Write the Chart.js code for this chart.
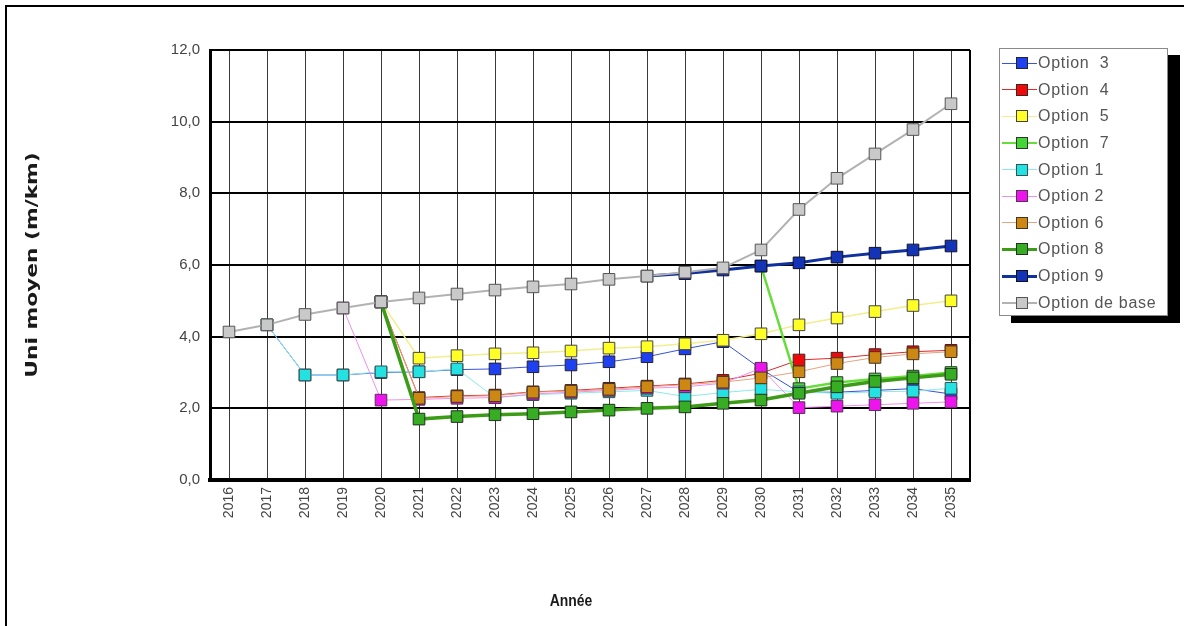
<!DOCTYPE html>
<html>
<head>
<meta charset="utf-8">
<script src="https://cdn.jsdelivr.net/npm/chart.js@4"></script>
<style>
  body { margin: 0; background: #fff; }
  #wrap { position: relative; width: 1184px; height: 626px; overflow: hidden; }
  #myChart { position: absolute; left: 0; top: 0; }
  #frame { position: absolute; left: 5px; top: 5px; right: -10px; bottom: -10px;
           border-top: 2px solid #000; border-left: 2px solid #000; }
  #legend { position: absolute; left: 999px; top: 48px; width: 169px; height: 268px;
            padding-top: 1px; box-sizing: border-box; background: #fff;
            border: 1px solid #8a8a8a; box-shadow: 12px 7px 0 #000; }
  #legend .item { position: relative; height: 26.6px; }
  #legend .seg { position: absolute; left: 2px; width: 35px; top: 50%; }
  #legend .box { position: absolute; left: 16px; top: 50%; width: 10px; height: 10px;
                 margin-top: -6px; border: 1px solid #333; }
  #legend .txt { position: absolute; left: 38px; top: 50%; transform: translateY(-50%);
                 font: 16px "Liberation Sans", Arial, sans-serif; letter-spacing: 0.7px;
                 white-space: pre; color: #555; }
</style>
</head>
<body>
<div id="wrap">
  <canvas id="myChart" width="1184" height="626"></canvas>
  <div id="frame"></div>
  <div id="legend"></div>
</div>
<script>
// years on the x axis
const years = ["2016", "2017", "2018", "2019", "2020", "2021", "2022", "2023", "2024", "2025",
               "2026", "2027", "2028", "2029", "2030", "2031", "2032", "2033", "2034", "2035"];

// roughness per option (m/km), null before the option branches off
const option3 = [null, 4.33, 2.93, 2.93, 3.00, 3.02, 3.08, 3.10, 3.16, 3.21, 3.30, 3.44, 3.66, 3.86, 3.10, 2.45, 2.45, 2.50, 2.55, 2.40];
const option4 = [null, null, null, null, 4.97, 2.30, 2.35, 2.37, 2.46, 2.50, 2.56, 2.62, 2.68, 2.78, 2.98, 3.35, 3.40, 3.50, 3.58, 3.62];
const option5 = [null, null, null, null, 4.97, 3.40, 3.47, 3.52, 3.55, 3.60, 3.68, 3.72, 3.80, 3.90, 4.08, 4.33, 4.52, 4.70, 4.87, 5.00];
const option7 = [null, null, null, null, null, null, null, null, null, null, null, null, null, null, 5.97, 2.55, 2.72, 2.82, 2.90, 3.00];
const option1 = [null, 4.33, 2.93, 2.93, 3.02, 3.02, 3.10, 2.30, 2.38, 2.42, 2.46, 2.50, 2.33, 2.44, 2.53, 2.46, 2.42, 2.46, 2.48, 2.56];
const option2 = [null, null, null, 4.80, 2.23, 2.25, 2.28, 2.30, 2.40, 2.45, 2.50, 2.56, 2.60, 2.70, 3.12, 2.02, 2.06, 2.10, 2.14, 2.18];
const option6 = [null, null, null, null, 4.97, 2.28, 2.33, 2.35, 2.45, 2.48, 2.53, 2.60, 2.66, 2.73, 2.85, 3.02, 3.25, 3.42, 3.52, 3.58];
const option8 = [null, null, null, null, 4.97, 1.70, 1.77, 1.82, 1.85, 1.90, 1.95, 2.00, 2.04, 2.14, 2.23, 2.42, 2.60, 2.75, 2.85, 2.95];
const option9 = [null, null, null, null, null, null, null, null, null, null, null, 5.69, 5.76, 5.86, 5.97, 6.06, 6.22, 6.33, 6.42, 6.53];
const optionBase = [4.13, 4.33, 4.62, 4.80, 4.97, 5.08, 5.19, 5.30, 5.39, 5.47, 5.60, 5.69, 5.80, 5.92, 6.42, 7.55, 8.42, 9.10, 9.78, 10.50];

// y axis ticks
const yTicks = [0, 2, 4, 6, 8, 10, 12];

const series = [
  { label: "Option  3", data: option3, line: "#3552e0", fill: "#1f40ee", edge: "#223", width: 1 },
  { label: "Option  4", data: option4, line: "#dd2a2a", fill: "#ee0a0a", edge: "#422", width: 1 },
  { label: "Option  5", data: option5, line: "#f2ee90", fill: "#ffff26", edge: "#444", width: 1.5 },
  { label: "Option  7", data: option7, line: "#66dd3a", fill: "#44d634", edge: "#333", width: 2.5 },
  { label: "Option 1", data: option1, line: "#8ceaea", fill: "#25e2e2", edge: "#355", width: 1 },
  { label: "Option 2", data: option2, line: "#ee90ee", fill: "#ee14ee", edge: "#535", width: 1 },
  { label: "Option 6", data: option6, line: "#e4a480", fill: "#cc8812", edge: "#432", width: 1 },
  { label: "Option 8", data: option8, line: "#3c9c18", fill: "#36ad22", edge: "#232", width: 3.5 },
  { label: "Option 9", data: option9, line: "#10309e", fill: "#1434b8", edge: "#112", width: 3 },
  { label: "Option de base", data: optionBase, line: "#b2b2b2", fill: "#c9c9c9", edge: "#555", width: 2 }
];

// right edge of the plot, plus the two axis titles
const frameAndTitles = {
  id: "frameAndTitles",
  beforeDatasetsDraw(chart) {
    const { ctx, chartArea: a } = chart;
    ctx.save();
    ctx.strokeStyle = "#000";
    ctx.lineWidth = 2;
    ctx.beginPath();
    ctx.moveTo(a.right, a.top);
    ctx.lineTo(a.right, a.bottom);
    ctx.stroke();
    ctx.restore();
  },
  afterDraw(chart) {
    const { ctx, chartArea: a } = chart;
    ctx.save();
    ctx.fillStyle = "#1a1a1a";
    ctx.textAlign = "center";
    ctx.textBaseline = "middle";
    ctx.font = 'bold 16px "DejaVu Sans", sans-serif';
    ctx.translate(33, (a.top + a.bottom) / 2);
    ctx.rotate(-Math.PI / 2);
    ctx.scale(1.36, 1);
    ctx.fillText("Uni moyen (m/km)", 0, 0);
    ctx.restore();

    ctx.save();
    ctx.fillStyle = "#1a1a1a";
    ctx.textAlign = "center";
    ctx.textBaseline = "middle";
    ctx.font = 'bold 17px "Liberation Sans", Arial, sans-serif';
    ctx.translate(a.left + (a.right - a.left) * 0.475, 601);
    ctx.scale(0.82, 1);
    ctx.fillText("Année", 0, 0);
    ctx.restore();
  }
};

const config = {
  type: "line",
  data: {
    labels: years,
    datasets: series.map((s, i) => ({
      label: s.label,
      data: s.data,
      borderColor: s.line,
      borderWidth: s.width,
      pointStyle: "rect",
      pointRadius: 8.2,
      pointBackgroundColor: s.fill,
      pointBorderColor: s.edge,
      pointBorderWidth: 1,
      tension: 0,
      order: series.length - i   // later series sit on top
    }))
  },
  options: {
    responsive: false,
    animation: false,
    layout: { padding: { left: 18, top: 50, right: 214, bottom: 12 } },
    plugins: { legend: { display: false }, tooltip: { enabled: false } },
    scales: {
      x: {
        offset: true,
        grid: { color: "#3a3a3a", lineWidth: 1, drawTicks: false },
        border: { color: "#000", width: 4 },
        ticks: {
          minRotation: 90, maxRotation: 90, padding: 7, color: "#444",
          font: { size: 14, family: '"Liberation Sans", Arial, sans-serif' }
        },
        afterFit(scale) { scale.height = 134; }
      },
      y: {
        min: 0, max: 12,
        afterBuildTicks(scale) { scale.ticks = yTicks.map(v => ({ value: v })); },
        grid: { color: "#000", lineWidth: 2, drawTicks: false },
        border: { color: "#000", width: 3 },
        ticks: {
          padding: 10, color: "#444",
          font: { size: 15, family: '"Liberation Sans", Arial, sans-serif' },
          callback: v => v.toFixed(1).replace(".", ",")
        },
        afterFit(scale) { scale.width = 192; }
      }
    }
  },
  plugins: [frameAndTitles]
};

var myChart = new Chart(document.getElementById("myChart"), config);

// legend: short line, square marker, label
const legendBox = document.getElementById("legend");
series.forEach(s => {
  const row = document.createElement("div");
  row.className = "item";
  const seg = document.createElement("span");
  seg.className = "seg";
  seg.style.background = s.line;
  seg.style.height = s.width + "px";
  seg.style.marginTop = (-s.width / 2) + "px";
  const box = document.createElement("span");
  box.className = "box";
  box.style.background = s.fill;
  box.style.borderColor = s.edge;
  const txt = document.createElement("span");
  txt.className = "txt";
  txt.textContent = s.label;
  row.append(seg, box, txt);
  legendBox.appendChild(row);
});
</script>
</body>
</html>
